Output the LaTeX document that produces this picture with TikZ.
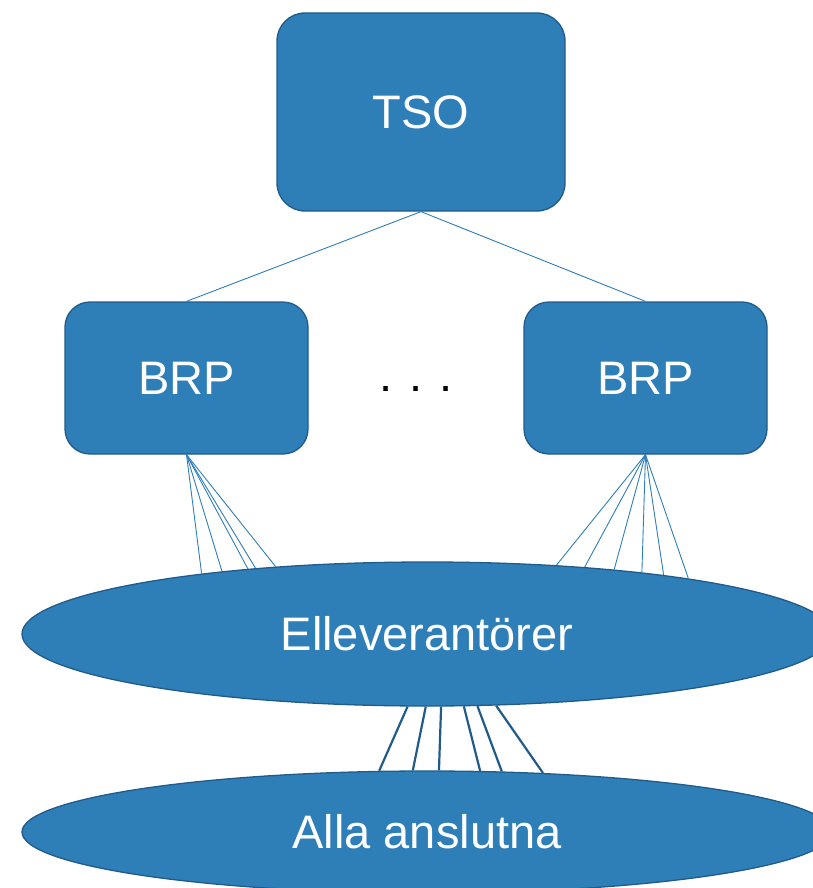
\documentclass[tikz,border=0pt]{standalone}
\usepackage{fontspec}
\setmainfont{Liberation Sans}
\usetikzlibrary{shapes.geometric}
\definecolor{boxfill}{RGB}{46,126,184}
\definecolor{boxline}{RGB}{33,91,138}

\begin{document}
\begin{tikzpicture}[
  x=1pt, y=-1pt,
  actor/.style={draw=boxline, fill=boxfill, line width=1.3pt, text=white,
    font=\fontsize{47}{56}\selectfont, inner sep=0pt},
  roundbox/.style={actor, rectangle, rounded corners=28pt},
  market/.style={actor, ellipse, minimum width=810pt},
  fan/.style={draw=boxfill, line width=0.9pt},
  link/.style={draw=boxline, line width=2.2pt},
]
\useasboundingbox (0,0) rectangle (812,888);
\node[roundbox, minimum width=288pt, minimum height=198pt] (tso) at (421,112) {TSO};
\node[roundbox, minimum width=243pt, minimum height=152pt, rounded corners=25pt] (brpa) at (186.5,378) {BRP};
\node[roundbox, minimum width=243pt, minimum height=152pt, rounded corners=25pt] (brpb) at (645.5,378) {BRP};
\node[font=\fontsize{47}{56}\selectfont, inner sep=0pt, anchor=base] (dots) at (416,391) {. . .};
\node[market, minimum height=144pt] (elev) at (427,634) {Elleverantörer};
\node[market, minimum height=122pt] (alla) at (427,832) {Alla anslutna};
\draw[fan] (tso.south) -- (brpa.north);
\draw[fan] (tso.south) -- (brpb.north);
\foreach \a in {165.3,163.4,160.3,159.0,156.0}
  \draw[fan] (brpa.south) -- (elev.\a);
\foreach \a in {28.7,23.1,19.7,16.0,14.5,12.1}
  \draw[fan] (brpb.south) -- (elev.\a);
\foreach \a/\b in {255.2/128.4,269.2/103.8,281.0/79.8,297.3/49.9,305.0/39.4,314.6/27.4}
  \draw[link] (elev.\a) -- (alla.\b);
\end{tikzpicture}
\end{document}
